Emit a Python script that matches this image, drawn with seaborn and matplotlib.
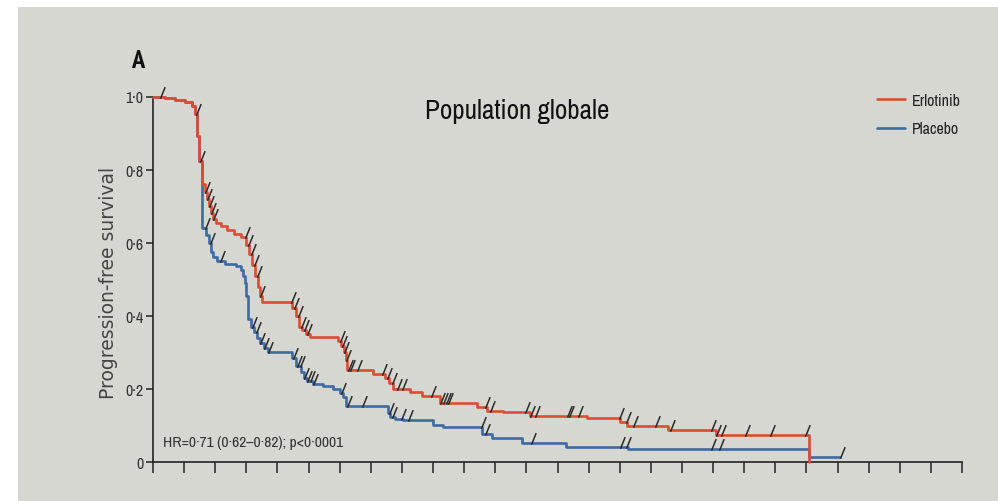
import numpy as np
import pandas as pd
import seaborn as sns
import matplotlib
matplotlib.use("Agg")
import matplotlib.pyplot as plt
from matplotlib.path import Path
from matplotlib.lines import Line2D
from matplotlib.patches import Rectangle
from matplotlib import font_manager
from matplotlib.font_manager import FontProperties

# ---------------- data ----------------
groups = ["Erlotinib", "Placebo"]
colors = ["#de4a32", "#3d6aa3"]

erl_time = [0, 0.39, 0.71, 1.03, 1.25, 1.36, 1.40, 1.48, 1.58, 1.67, 1.74, 1.80, 1.86, 1.93,
            2.03, 2.19, 2.38, 2.60, 2.83, 2.99, 3.09, 3.18, 3.28, 3.38, 3.44, 3.50, 4.47, 4.60,
            4.69, 4.79, 4.92, 5.05, 5.95, 6.05, 6.14, 6.21, 6.24, 7.07, 7.46, 7.59, 7.72, 8.26,
            8.65, 9.23, 10.42, 10.74, 11.25, 12.12, 13.95, 15.02, 15.24, 16.56, 18.10, 21.09]
erl_surv = [1.0, 0.995, 0.99, 0.985, 0.975, 0.952, 0.893, 0.824, 0.76, 0.74, 0.72, 0.70, 0.68,
            0.665, 0.655, 0.645, 0.635, 0.625, 0.615, 0.595, 0.57, 0.54, 0.51, 0.48, 0.455, 0.437,
            0.42, 0.40, 0.37, 0.36, 0.35, 0.342, 0.33, 0.318, 0.30, 0.28, 0.252, 0.241, 0.23,
            0.215, 0.20, 0.192, 0.181, 0.161, 0.15, 0.14, 0.136, 0.127, 0.12, 0.109, 0.099,
            0.088, 0.074, 0.0]
erl_censor = [0.23, 1.38, 1.51, 1.67, 1.74, 1.80, 1.86, 1.93, 2.96, 3.05, 3.15, 3.25, 3.34, 3.44,
              4.44, 4.53, 4.66, 4.76, 4.86, 4.95, 6.01, 6.08, 6.14, 6.21, 6.27, 6.33, 6.56,
              7.36, 7.52, 7.68, 7.85, 8.01, 8.94, 9.23, 9.32, 9.42, 9.49, 10.68, 10.84,
              11.96, 12.12, 12.28, 13.31, 13.38, 13.67, 14.98, 15.21, 15.43, 16.14, 16.62,
              17.94, 18.10, 18.26, 19.04, 19.84, 20.95]

pla_time = [0, 0.39, 0.71, 1.03, 1.25, 1.36, 1.40, 1.48, 1.58, 1.70, 1.80, 1.86, 1.93, 2.06,
            2.32, 2.67, 2.83, 2.89, 2.96, 3.00, 3.04, 3.15, 3.25, 3.34, 3.44, 3.57, 3.70, 4.47,
            4.60, 4.76, 4.86, 4.95, 5.14, 5.47, 5.79, 6.01, 6.11, 6.21, 7.56, 7.62, 7.78, 8.04,
            9.00, 9.32, 10.58, 10.90, 11.86, 13.28, 15.27, 21.09]
pla_surv = [1.0, 0.995, 0.99, 0.985, 0.975, 0.952, 0.893, 0.824, 0.64, 0.62, 0.60, 0.575, 0.56,
            0.55, 0.542, 0.535, 0.525, 0.51, 0.49, 0.455, 0.39, 0.37, 0.355, 0.34, 0.325, 0.312,
            0.30, 0.285, 0.263, 0.245, 0.23, 0.222, 0.213, 0.209, 0.20, 0.19, 0.178, 0.154,
            0.135, 0.122, 0.118, 0.116, 0.101, 0.095, 0.077, 0.065, 0.052, 0.042, 0.036, 0.013]
pla_censor = [1.67, 1.83, 2.15, 3.18, 3.31, 3.44, 3.57, 3.70, 4.50, 4.63, 4.73, 4.86, 4.95,
              5.05, 5.14, 6.05, 6.24, 6.72, 7.59, 7.68, 7.97, 8.20, 10.55, 10.68, 12.15,
              15.02, 15.21, 17.94, 18.20, 22.09]

x_ticks = list(range(0, 27))
y_ticks = [0, 0.2, 0.4, 0.6, 0.8, 1.0]
y_ticklabels = ["0", "0·2", "0·4", "0·6", "0·8", "1·0"]
title = "Population globale"
panel = "A"
ylabel = "Progression-free survival"
hr_text = "HR=0·71 (0·62–0·82); p<0·0001"

# ---------------- style ----------------
sns.set_theme(style="ticks")
plt.rcParams["font.family"] = ["Liberation Sans", "DejaVu Sans"]

def _w(f):
    w = f.weight
    if isinstance(w, (int, float)):
        return int(w)
    return {"normal": 400, "regular": 400, "book": 400, "medium": 500,
            "semibold": 600, "bold": 700}.get(str(w).lower(), 400)

cands = []
for f in font_manager.fontManager.ttflist:
    nm = f.name.lower()
    st = str(f.stretch).lower()
    if f.style != "normal":
        continue
    if "narrow" in nm or "condensed" in nm or "condensed" in st:
        cands.append(f)

def pick(weight):
    for key in ["narrow", "open sans", "roboto", "noto sans", "dejavu sans", ""]:
        best = None
        for f in cands:
            if key in f.name.lower():
                if best is None or abs(_w(f) - weight) < abs(_w(best) - weight):
                    best = f
        if best is not None:
            return best
    return None

cf = pick(400)
cfb = pick(600)

def cprop(size, bold=False):
    f = cfb if bold else cf
    if f is not None:
        return FontProperties(fname=f.fname, size=size)
    return FontProperties(family=["Liberation Sans", "DejaVu Sans"], size=size * 0.88,
                          weight="bold" if bold else "normal")

W, H = 998, 502
fig = plt.figure(figsize=(W / 100, H / 100), dpi=100, facecolor="white")
bg = "#d7d7d1"
fig.patches.append(Rectangle((18 / W, 0), 1, 1 - 8 / H, transform=fig.transFigure,
                             facecolor=bg, edgecolor="none", zorder=-10))

x0, x1 = 153, 962
y0, y1 = 463, 97.5
ax = fig.add_axes([x0 / W, 1 - y0 / H, (x1 - x0) / W, (y0 - y1) / H])
ax.set_facecolor("none")

rows = []
for g, t, s, c in [("Placebo", pla_time, pla_surv, pla_censor),
                   ("Erlotinib", erl_time, erl_surv, erl_censor)]:
    tt = list(t)
    ss = list(s)
    if max(c) > tt[-1]:
        tt.append(max(c))
        ss.append(ss[-1])
    for a, b in zip(tt, ss):
        rows.append({"group": g, "time": a, "surv": b})
df = pd.DataFrame(rows)

palette = dict(zip(groups, colors))
for g in ["Placebo", "Erlotinib"]:
    sns.lineplot(data=df[df.group == g], x="time", y="surv", color=palette[g],
                 drawstyle="steps-post", estimator=None, sort=False, lw=1.9,
                 ax=ax, legend=False, clip_on=False, zorder=3)

mark = Path([(0, -0.12), (0.45, 1.0)], [Path.MOVETO, Path.LINETO])
for t, s, c in [(pla_time, pla_surv, pla_censor), (erl_time, erl_surv, erl_censor)]:
    ta = np.array(t)
    sa = np.array(s)
    idx = np.searchsorted(ta, np.array(c), side="right") - 1
    ax.plot(c, sa[idx], ls="none", marker=mark, ms=15, mfc="none", mec="#2a2a2a",
            mew=1.1, clip_on=False, zorder=4)

ax.set_xlim(0, 26)
ax.set_ylim(0, 1)
ax.set_xticks(x_ticks)
ax.set_xticklabels([])
ax.set_yticks(y_ticks)
ax.set_yticklabels(y_ticklabels, color="#333333")
for lab in ax.get_yticklabels():
    lab.set_fontproperties(cprop(11.5))
ax.tick_params(axis="x", length=8, width=1.1, color="#222222", direction="out")
ax.tick_params(axis="y", length=5, width=1.1, color="#222222", direction="out", pad=2)
for sp in ["top", "right"]:
    ax.spines[sp].set_visible(False)
for sp in ["left", "bottom"]:
    ax.spines[sp].set_color("#222222")
    ax.spines[sp].set_linewidth(1.2)
ax.set_xlabel("")
ax.set_ylabel(ylabel, family=["DejaVu Sans"], fontsize=13.5, color="#444444")
ax.yaxis.set_label_coords((118 - x0) / (x1 - x0), (y0 - 283) / (y0 - y1))

fig.text(131 / W, 1 - 62 / H, panel, fontproperties=cprop(19, bold=True),
         va="center", ha="left", color="#111111")
fig.text(517 / W, 1 - 112 / H, title, fontproperties=cprop(19.5), va="center", ha="center",
         color="#111111")
fig.text(163 / W, 1 - 443 / H, hr_text, fontproperties=cprop(11.2), va="center", ha="left",
         color="#333333")

handles = [Line2D([], [], color=palette[g], lw=1.9) for g in groups]
fig.legend(handles, groups, loc="upper left", bbox_to_anchor=(877 / W, 1 - 94 / H),
           frameon=False, prop=cprop(11.5), handlelength=1.75, handletextpad=0.45,
           labelspacing=0.82, borderpad=0, borderaxespad=0, labelcolor="#222222")

fig.savefig("out.png", dpi=100, facecolor=fig.get_facecolor())
